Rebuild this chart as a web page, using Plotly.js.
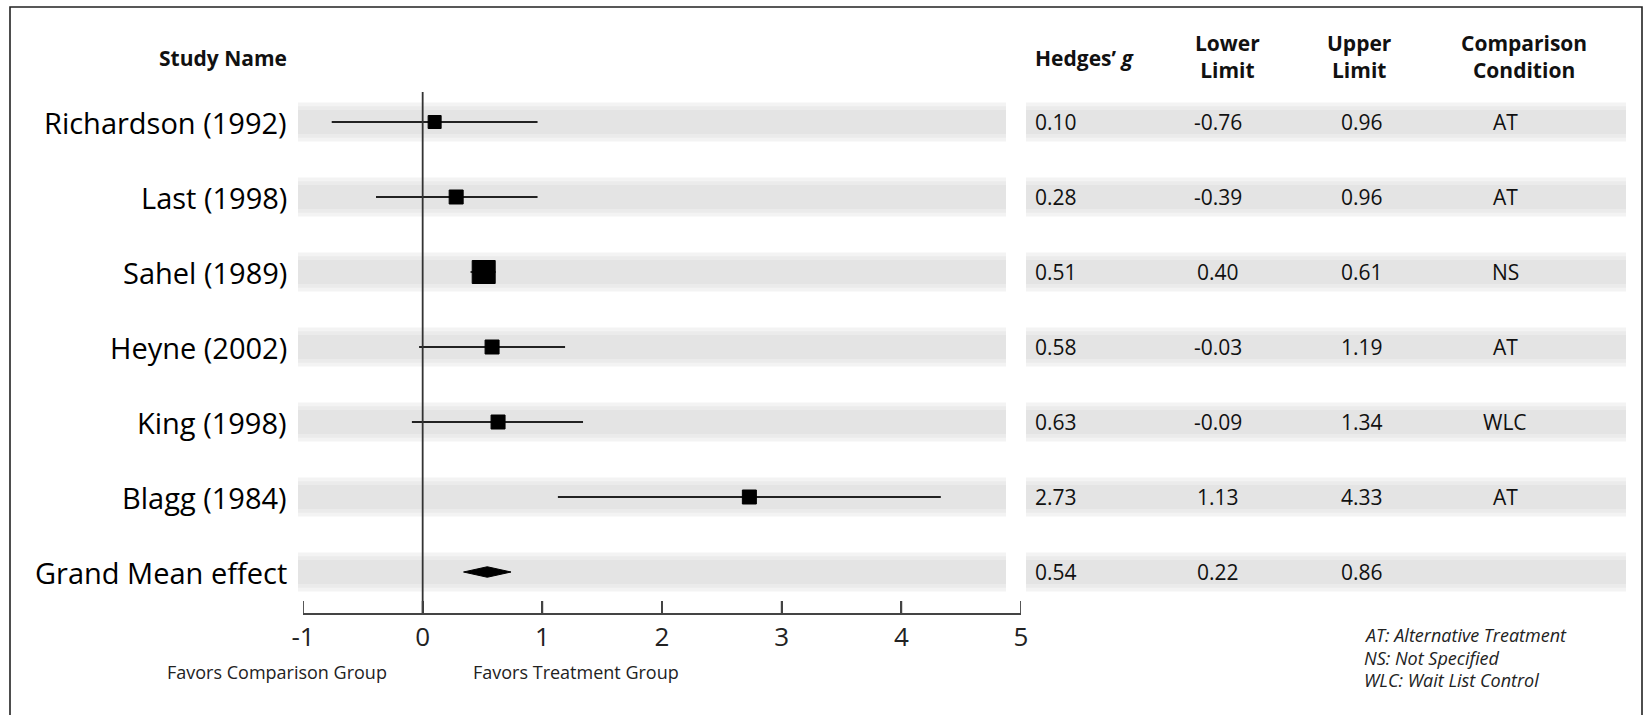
<!DOCTYPE html>
<html>
<head>
<meta charset="utf-8">
<script src="https://cdn.plot.ly/plotly-3.0.1.min.js"></script>
<style>html,body{margin:0;padding:0;background:#fff;}#chart{width:1650px;height:715px;}</style>
</head>
<body>
<div id="chart"></div>
<script>
// ---- data ----
const studies = ["Richardson (1992)", "Last (1998)", "Sahel (1989)", "Heyne (2002)", "King (1998)", "Blagg (1984)", "Grand Mean effect"];
const hedgesG = [0.10, 0.28, 0.51, 0.58, 0.63, 2.73, 0.54];
const lowerLimit = [-0.76, -0.39, 0.40, -0.03, -0.09, 1.13, 0.22];
const upperLimit = [0.96, 0.96, 0.61, 1.19, 1.34, 4.33, 0.86];
const comparison = ["AT", "AT", "NS", "AT", "WLC", "AT", ""];
const xTickVals = [-1, 0, 1, 2, 3, 4, 5];
const xTickText = ["-1", "0", "1", "2", "3", "4", "5"];
const headers = ["Study Name", "Hedges\u2019 <i>g</i>", "Lower<br>Limit", "Upper<br>Limit", "Comparison<br>Condition"];
const footnotes = ["AT: Alternative Treatment", "NS: Not Specified", "WLC: Wait List Control"];
const favorLabels = ["Favors Comparison Group", "Favors Treatment Group"];

// ---- style / layout constants ----
const W = 1650, H = 715;
const PL = 303, PR = 1021, PT = 80, PB = 613;
const ROW0 = 122, ROWSTEP = 75;
const FONT = "'Open Sans', 'Noto Sans', sans-serif";
const markerSizes = [13, 14, 23, 14, 14, 14];
const DIAMOND_SCALE = 0.62;

const nStudies = studies.length - 1;
const px2p = px => (px - PL) / (PR - PL);
const py2p = py => (PB - py) / (PB - PT);
const yBottom = (PB - ROW0) / ROWSTEP;
const yTop = (PT - ROW0) / ROWSTEP;

const traces = [];
// CI lines
for (let i = 0; i < nStudies; i++) {
  traces.push({
    x: [lowerLimit[i], upperLimit[i]], y: [i, i], mode: "lines", type: "scatter",
    line: {color: "#222", width: 1.8}, hoverinfo: "skip", showlegend: false
  });
}
// point estimates
traces.push({
  x: hedgesG.slice(0, nStudies), y: studies.slice(0, nStudies).map((s, i) => i),
  mode: "markers", type: "scatter",
  marker: {symbol: "square", size: markerSizes, color: "#000", opacity: 1, line: {width: 1, color: "#000"}},
  showlegend: false, hoverinfo: "x"
});
// grand mean diamond
const gi = nStudies;
const gm = hedgesG[gi];
const dl = gm - (gm - lowerLimit[gi]) * DIAMOND_SCALE;
const du = gm + (upperLimit[gi] - gm) * DIAMOND_SCALE;
traces.push({
  x: [dl, gm, du, gm, dl], y: [gi, gi - 0.07, gi, gi + 0.07, gi],
  mode: "lines", fill: "toself", fillcolor: "#000", line: {color: "#000", width: 1},
  type: "scatter", showlegend: false, hoverinfo: "skip"
});

const shapes = [];
// blurred grey row bands
studies.forEach((s, i) => {
  [[0.26, "#f3f3f3"], [0.21, "#ebebeb"], [0.16, "#e4e4e4"]].forEach(([h, c]) => {
    shapes.push({type: "rect", layer: "below", xref: "paper", yref: "y",
      x0: px2p(298), x1: px2p(1006), y0: i - h, y1: i + h, fillcolor: c, line: {width: 0}});
    shapes.push({type: "rect", layer: "below", xref: "paper", yref: "y",
      x0: px2p(1026), x1: px2p(1626), y0: i - h, y1: i + h, fillcolor: c, line: {width: 0}});
  });
});
// zero line
shapes.push({type: "line", xref: "x", yref: "paper", x0: 0, x1: 0, y0: 0, y1: py2p(92),
  line: {color: "#333", width: 1.8}});
// upward tick marks
xTickVals.forEach(v => {
  shapes.push({type: "line", xref: "x", yref: "paper", x0: v, x1: v, y0: 0, y1: 12 / (PB - PT),
    line: {color: "#444", width: 1.8}});
});
// frame
shapes.push({type: "rect", xref: "paper", yref: "paper", x0: px2p(10), x1: px2p(1642),
  y0: py2p(730), y1: py2p(7), line: {color: "#222", width: 1.6}, fillcolor: "rgba(0,0,0,0)"});

const ann = [];
// study names
studies.forEach((s, i) => {
  ann.push({text: s, xref: "paper", yref: "y", x: px2p(289), y: i, xanchor: "right", yanchor: "middle",
    showarrow: false, font: {family: FONT, size: 29, color: "#000"}});
});
// table values
const colX = [1056, 1218, 1362, 1505];
studies.forEach((s, i) => {
  const vals = [hedgesG[i].toFixed(2), lowerLimit[i].toFixed(2), upperLimit[i].toFixed(2), comparison[i]];
  vals.forEach((v, c) => {
    if (v === "") return;
    ann.push({text: v, xref: "paper", yref: "y", x: px2p(colX[c]), y: i, xanchor: "center", yanchor: "middle",
      showarrow: false, font: {family: FONT, size: 21, color: "#111"}});
  });
});
// headers
const hdrX = [289, 1084, 1227, 1359, 1524];
headers.forEach((h, k) => {
  ann.push({text: "<b>" + h.replace("<br>", "</b><br><b>") + "</b>", xref: "paper", yref: "paper",
    x: px2p(hdrX[k]), y: py2p(k === 0 || k === 1 ? 58 : 57),
    xanchor: k === 0 ? "right" : "center", yanchor: "middle", align: "center", showarrow: false,
    font: {family: FONT, size: 21, color: "#111"}});
});
// favors labels
ann.push({text: favorLabels[0], xref: "paper", yref: "paper", x: px2p(277), y: py2p(672),
  xanchor: "center", yanchor: "middle", showarrow: false, font: {family: FONT, size: 18, color: "#222"}});
ann.push({text: favorLabels[1], xref: "paper", yref: "paper", x: px2p(576), y: py2p(672),
  xanchor: "center", yanchor: "middle", showarrow: false, font: {family: FONT, size: 18, color: "#222"}});
// footnotes
footnotes.forEach((f, k) => {
  ann.push({text: "<i>" + f + "</i>", xref: "paper", yref: "paper", x: px2p(1362), y: py2p(635 + 22.5 * k),
    xanchor: "left", yanchor: "middle", showarrow: false, font: {family: FONT, size: 18, color: "#222"}});
});

const layout = {
  width: W, height: H,
  margin: {l: PL, r: W - PR, t: PT, b: H - PB, pad: 0},
  paper_bgcolor: "#fff", plot_bgcolor: "rgba(0,0,0,0)",
  showlegend: false,
  xaxis: {range: [-1, 5], tickvals: xTickVals, ticktext: xTickText, showgrid: false, zeroline: false,
    showline: true, linecolor: "#444", linewidth: 1.8, ticks: "inside", ticklen: 12, tickwidth: 1.8,
    tickcolor: "#444", tickfont: {family: FONT, size: 26, color: "#222"}, fixedrange: true, mirror: false},
  yaxis: {range: [yBottom, yTop], showgrid: false, zeroline: false, showline: false, showticklabels: false,
    ticks: "", fixedrange: true},
  shapes: shapes, annotations: ann
};
Plotly.newPlot("chart", traces, layout, {displayModeBar: false, staticPlot: true});
</script>
</body>
</html>
